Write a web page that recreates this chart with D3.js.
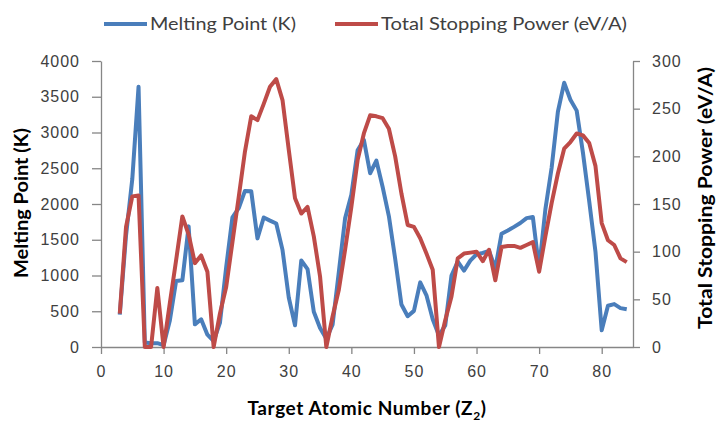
<!DOCTYPE html>
<html>
<head>
<meta charset="utf-8">
<script src="https://cdn.jsdelivr.net/npm/d3@7"></script>
<style>
  body { margin: 0; background: #fff; }
  svg { display: block; font-family: Lato, "Open Sans", sans-serif; }
</style>
</head>
<body>
<svg id="svgCanvas" width="718" height="423"></svg>
<script>
// target atomic numbers Z2
let atomicNumbers = [3, 4, 5, 6, 7, 8, 9, 10, 11, 12, 13, 14, 15, 16, 17, 18, 19, 20, 21, 22,
    23, 24, 25, 26, 27, 28, 29, 30, 31, 32, 33, 34, 35, 36, 37, 38, 39, 40, 41, 42,
    43, 44, 45, 46, 47, 48, 49, 50, 51, 52, 53, 54, 55, 56, 57, 58, 59, 60, 61, 62,
    63, 64, 65, 66, 67, 68, 69, 70, 71, 72, 73, 74, 75, 76, 77, 78, 79, 80, 81, 82, 83, 84];

// melting point (K)
let meltingPoint = [454, 1560, 2349, 3640, 63, 54, 53, 25, 371, 923, 933, 1687, 317, 388, 172, 84, 337, 1115, 1814, 1941,
    2183, 2180, 1519, 1811, 1768, 1728, 1358, 693, 303, 1211, 1090, 494, 266, 116, 312, 1050, 1799, 2128, 2750, 2896,
    2430, 2607, 2237, 1828, 1235, 594, 430, 505, 904, 723, 387, 161, 302, 1000, 1193, 1068, 1208, 1297, 1315, 1345,
    1099, 1585, 1629, 1680, 1734, 1802, 1818, 1097, 1925, 2506, 3290, 3695, 3459, 3306, 2719, 2041, 1337, 234, 577, 600, 544, 527];

// total stopping power (eV/A)
let stoppingPower = [35, 126, 158, 159, 0, 0, 62, 0, 46, 91, 137, 118, 88, 96, 79, 0, 35, 63, 110, 157,
    205, 242, 238, 255, 273, 281, 259, 207, 156, 140, 147, 116, 74, 0, 32, 60, 102, 147, 196, 224,
    243, 242, 240, 229, 200, 161, 128, 126, 114, 98, 81, 0, 28, 53, 93, 98, 99, 100, 90, 102,
    70, 105, 106, 106, 104, 107, 110, 79, 116, 151, 182, 208, 215, 224, 222, 214, 190, 130, 112, 107, 93, 89];

let xTicks = [0, 10, 20, 30, 40, 50, 60, 70, 80];
let leftTicks = [0, 500, 1000, 1500, 2000, 2500, 3000, 3500, 4000];
let rightTicks = [0, 50, 100, 150, 200, 250, 300];

let seriesNames = ['Melting Point (K)', 'Total Stopping Power (eV/A)'];
let seriesColors = ['#4A7EBB', '#BE4B48'];

window.addEventListener('DOMContentLoaded', (event) => {
    let svg = d3.select('#svgCanvas');

    let x = d3.scaleLinear().domain([0, 85]).range([101, 633]);
    let yLeft = d3.scaleLinear().domain([0, 4000]).range([347, 61]);
    let yRight = d3.scaleLinear().domain([0, 300]).range([347, 61]);

    // the picture is a bit stretched sideways, so the labels get some spacing
    let styleAxis = g => {
        g.select('.domain').attr('stroke', '#868686').attr('stroke-width', 1.3);
        g.selectAll('.tick line').attr('stroke', '#868686').attr('stroke-width', 1.3);
        g.selectAll('.tick text')
            .attr('fill', '#404040')
            .style('font-size', '16px')
            .style('letter-spacing', '1px');
    };

    svg.append('g')
        .attr('transform', 'translate(0,347)')
        .call(d3.axisBottom(x).tickValues(xTicks).tickSize(7).tickSizeOuter(0).tickPadding(12))
        .call(styleAxis);

    svg.append('g')
        .attr('transform', 'translate(101,0)')
        .call(d3.axisLeft(yLeft).tickValues(leftTicks).tickFormat(d3.format('d'))
            .tickSize(9).tickSizeOuter(0).tickPadding(12))
        .call(styleAxis);

    svg.append('g')
        .attr('transform', 'translate(633,0)')
        .call(d3.axisRight(yRight).tickValues(rightTicks).tickSize(7).tickSizeOuter(0).tickPadding(12))
        .call(styleAxis);

    let meltLine = d3.line()
        .x((d, i) => x(atomicNumbers[i]))
        .y(d => yLeft(d));
    let stopLine = d3.line()
        .x((d, i) => x(atomicNumbers[i]))
        .y(d => yRight(d));

    svg.append('path')
        .attr('d', meltLine(meltingPoint))
        .attr('fill', 'none')
        .attr('stroke', seriesColors[0])
        .attr('stroke-width', 4)
        .attr('stroke-linejoin', 'round');

    svg.append('path')
        .attr('d', stopLine(stoppingPower))
        .attr('fill', 'none')
        .attr('stroke', seriesColors[1])
        .attr('stroke-width', 4)
        .attr('stroke-linejoin', 'round');

    // axis titles
    let bottomTitle = svg.append('text')
        .attr('x', 367)
        .attr('y', 415)
        .attr('text-anchor', 'middle')
        .style('font-size', '19px')
        .style('font-weight', 'bold')
        .style('letter-spacing', '0.6px')
        .attr('fill', '#000');
    bottomTitle.append('tspan').text('Target Atomic Number (Z');
    bottomTitle.append('tspan').attr('dy', 5).style('font-size', '12px').text('2');
    bottomTitle.append('tspan').attr('dy', -5).text(')');

    svg.append('text')
        .attr('transform', 'translate(28,203) rotate(-90)')
        .attr('text-anchor', 'middle')
        .attr('textLength', 150)
        .attr('lengthAdjust', 'spacingAndGlyphs')
        .style('font-size', '19px')
        .style('font-weight', 'bold')
        .text('Melting Point (K)');

    svg.append('text')
        .attr('transform', 'translate(712,198) rotate(-90)')
        .attr('text-anchor', 'middle')
        .attr('textLength', 262)
        .attr('lengthAdjust', 'spacingAndGlyphs')
        .style('font-size', '19px')
        .style('font-weight', 'bold')
        .text('Total Stopping Power (eV/A)');

    // legend
    let legendX = [104, 335];
    let legendWidth = [146, 246];
    let legend = svg.append('g');
    seriesNames.forEach((name, i) => {
        legend.append('line')
            .attr('x1', legendX[i]).attr('x2', legendX[i] + 43)
            .attr('y1', 24).attr('y2', 24)
            .attr('stroke', seriesColors[i])
            .attr('stroke-width', 4);
        legend.append('text')
            .attr('x', legendX[i] + 46)
            .attr('y', 30)
            .attr('textLength', legendWidth[i])
            .attr('lengthAdjust', 'spacingAndGlyphs')
            .style('font-size', '18px')
            .attr('fill', '#404040')
            .text(name);
    });
});
</script>
</body>
</html>
